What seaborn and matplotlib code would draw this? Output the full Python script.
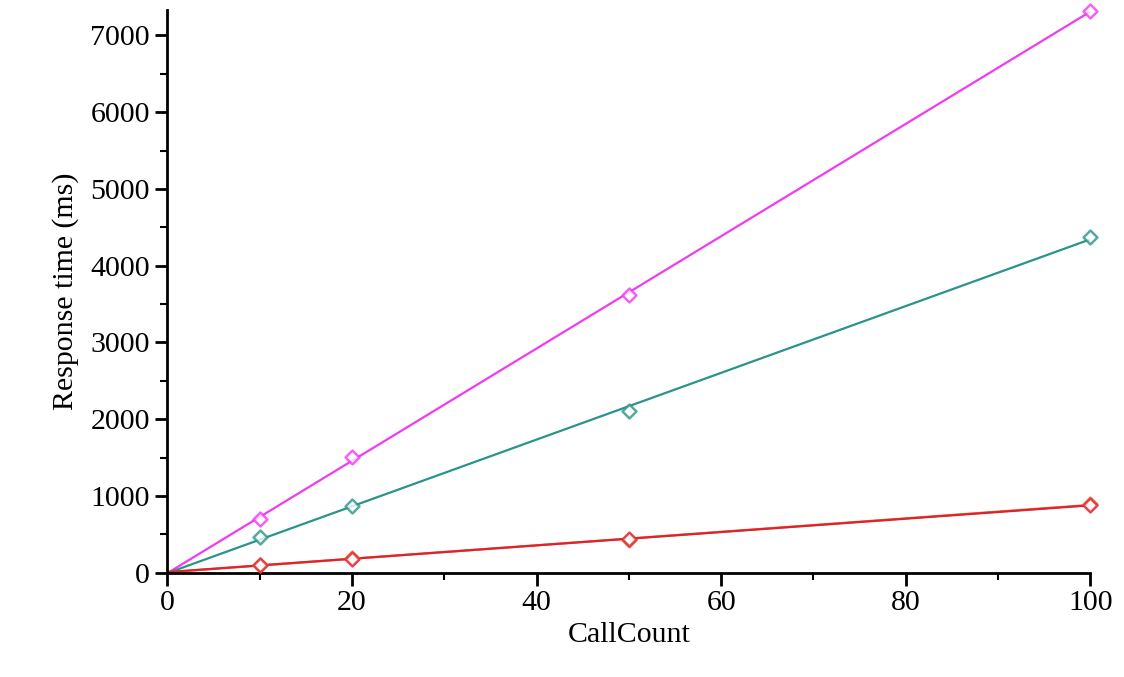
import matplotlib
matplotlib.use("Agg")
import matplotlib.pyplot as plt
import seaborn as sns
import numpy as np
import pandas as pd
from matplotlib.ticker import MultipleLocator

# data
call_count = [10, 20, 50, 100]
resp_magenta = [700, 1510, 3620, 7320]
resp_teal = [460, 870, 2110, 4370]
resp_red = [100, 180, 440, 880]
resp_orange = [95, 190, 430, 890]

series = {
    "magenta": (resp_magenta, "#f03cf0"),
    "teal": (resp_teal, "#2b9488"),
    "orange": (resp_orange, "#f07a30"),
    "red": (resp_red, "#dc2430"),
}

sns.set_style("ticks", {"axes.edgecolor": "black", "xtick.color": "black",
                        "ytick.color": "black", "text.color": "black",
                        "axes.labelcolor": "black"})
plt.rcParams['font.family'] = ['Liberation Serif', 'DejaVu Serif']

fig, ax = plt.subplots(figsize=(11.24, 6.77), dpi=100)
fig.subplots_adjust(left=0.149, right=0.970, top=0.985, bottom=0.154)
ax.set_xlim(0, 100)
ax.set_ylim(0, 7330)

for name, (vals, col) in series.items():
    df = pd.DataFrame({"CallCount": call_count, "Response": vals})
    sns.regplot(data=df, x="CallCount", y="Response", ax=ax, ci=None,
                truncate=False, marker="D",
                scatter_kws={"s": 50, "facecolors": "white", "edgecolors": col,
                             "linewidths": 1.8, "zorder": 3, "clip_on": False},
                line_kws={"color": col, "lw": 1.6})

ax.set_xlim(0, 100)
ax.set_ylim(0, 7330)
ax.xaxis.set_major_locator(MultipleLocator(20))
ax.xaxis.set_minor_locator(MultipleLocator(10))
ax.yaxis.set_major_locator(MultipleLocator(1000))
ax.yaxis.set_minor_locator(MultipleLocator(500))
ax.tick_params(which="major", length=9, width=2, labelsize=21.5, direction="out",
               colors="black")
ax.tick_params(which="minor", length=5, width=1.5, direction="out", colors="black")
for s in ["left", "bottom"]:
    ax.spines[s].set_linewidth(2)
    ax.spines[s].set_color("black")
sns.despine(ax=ax)
ax.set_xlabel("CallCount", fontsize=21.5, labelpad=4, color="black")
ax.set_ylabel("Response time (ms)", fontsize=21.5, labelpad=8, color="black")

fig.savefig("out.png", dpi=100)
